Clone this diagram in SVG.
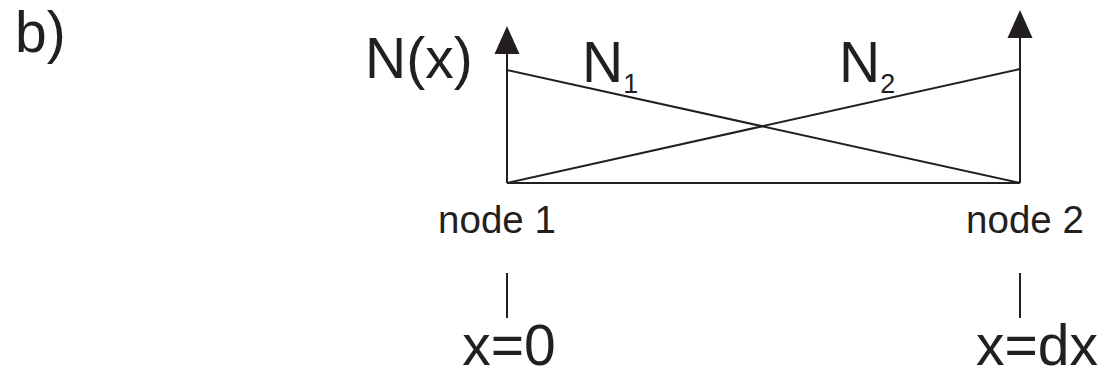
<svg xmlns="http://www.w3.org/2000/svg" width="1107" height="375" viewBox="0 0 1107 375">
<style>
.t{font-family:"Liberation Sans",Arial,sans-serif;fill:#231f20}
.big{font-size:57px}
.sub{font-size:27px}
.lbl{font-size:38.5px}
.ln{stroke:#231f20;stroke-width:2;fill:none}
.head{fill:#231f20}
</style>
<rect width="1107" height="375" fill="#fff"/>
<text class="t big" x="15" y="52">b)</text>
<g id="connectors">
<path class="ln" d="M507 183 L1020 183"/>
<path class="ln" d="M507 70 L1020 183"/>
<path class="ln" d="M507 183 L1020 69"/>
<path class="ln" d="M507 183 L507 52"/>
<path class="ln" d="M1020 183 L1020 36"/>
<path class="head" d="M507 26 L519.5 54 L494.5 54 Z"/>
<path class="head" d="M1020 10 L1032.5 38 L1007.5 38 Z"/>
<path class="ln" d="M507 273 L507 318"/>
<path class="ln" d="M1020 273 L1020 318"/>
</g>
<g id="axis-label"><text class="t big" x="365" y="78">N(x)</text></g>
<g id="N1"><text class="t big" x="582" y="82">N<tspan class="sub" dy="11">1</tspan></text></g>
<g id="N2"><text class="t big" x="839" y="82">N<tspan class="sub" dy="11">2</tspan></text></g>
<g id="node1">
<text class="t lbl" x="497" y="233" text-anchor="middle">node 1</text>
<text class="t big" x="509" y="365" text-anchor="middle">x=0</text>
</g>
<g id="node2">
<text class="t lbl" x="1025" y="233" text-anchor="middle">node 2</text>
<text class="t big" x="1037" y="365" text-anchor="middle">x=dx</text>
</g>
</svg>
